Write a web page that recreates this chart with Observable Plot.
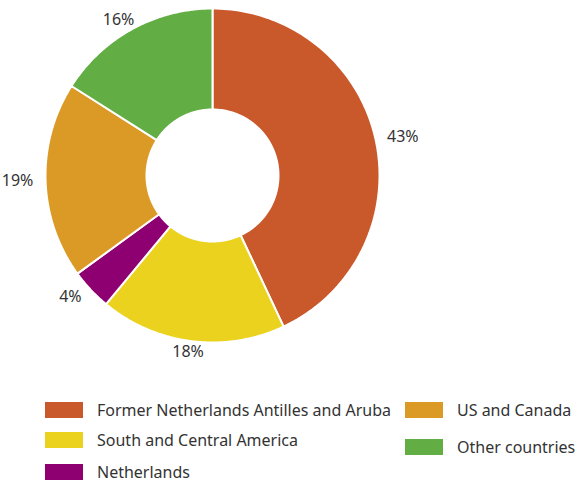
<!DOCTYPE html>
<html>
<head>
<meta charset="utf-8">
<script src="https://cdn.jsdelivr.net/npm/d3@7"></script>
<script src="https://cdn.jsdelivr.net/npm/@observablehq/plot@0.6"></script>
<style>
  body { margin: 0; background: #fff; font-family: "Noto Sans", sans-serif; }
  #chart svg { display: block; }
  .legend { position: relative; width: 581px; height: 104px; color: #333; font-size: 16px; }
  .item { position: absolute; display: flex; align-items: center; height: 20px; }
  .sw { width: 38px; height: 16px; margin-right: 14px; flex: none; }
</style>
</head>
<body>
<div id="chart"></div>
<div class="legend" id="legend"></div>
<script>
const categories = ["Former Netherlands Antilles and Aruba", "South and Central America", "Netherlands", "US and Canada", "Other countries"];
const shares = [43, 18, 4, 19, 16];
const colors = ["#c9582a", "#ebd21f", "#8e0072", "#db9a26", "#62ae44"];
const labels = ["43%", "18%", "4%", "19%", "16%"];

const outerR = 167, innerR = 66, labelRx = 195, labelRy = 178;
const total = d3.sum(shares);
const slices = [];
const pts = [];
let acc = 0;
shares.forEach((v, i) => {
  const a0 = acc / total * 2 * Math.PI;
  acc += v;
  const a1 = acc / total * 2 * Math.PI;
  const n = 120;
  for (let k = 0; k <= n; k++) {
    const a = a0 + (a1 - a0) * k / n;
    pts.push({name: categories[i], x: outerR * Math.sin(a), y: outerR * Math.cos(a)});
  }
  for (let k = n; k >= 0; k--) {
    const a = a0 + (a1 - a0) * k / n;
    pts.push({name: categories[i], x: innerR * Math.sin(a), y: innerR * Math.cos(a)});
  }
  const m = (a0 + a1) / 2;
  slices.push({label: labels[i], x: labelRx * Math.sin(m), y: labelRy * Math.cos(m)});
});

const W = 581, H = 380, cx = 212, cy = 175;
const chart = Plot.plot({
  width: W, height: H,
  margin: 0,
  x: {domain: [-cx, W - cx], axis: null},
  y: {domain: [cy - H, cy], axis: null},
  color: {domain: categories, range: colors},
  style: {fontFamily: "Noto Sans, sans-serif", background: "#fff"},
  marks: [
    Plot.line(pts, {x: "x", y: "y", z: "name", fill: "name", stroke: "white", strokeWidth: 2, curve: "linear-closed"}),
    Plot.text(slices, {x: "x", y: "y", text: "label", fontSize: 16, fill: "#333"})
  ]
});
document.getElementById("chart").appendChild(chart);

const legend = document.getElementById("legend");
const pos = [[45, 30], [45, 60], [45, 92], [405, 30], [405, 67]];
categories.forEach((c, i) => {
  const it = document.createElement("div");
  it.className = "item";
  it.style.left = pos[i][0] + "px";
  it.style.top = (pos[i][1] - 10) + "px";
  it.innerHTML = `<span class="sw" style="background:${colors[i]}"></span><span>${c}</span>`;
  legend.appendChild(it);
});
</script>
</body>
</html>
